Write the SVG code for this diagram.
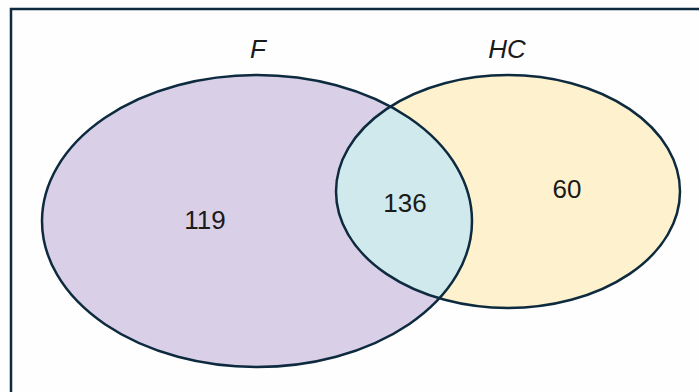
<svg xmlns="http://www.w3.org/2000/svg" width="699" height="392" viewBox="0 0 699 392">
<style>
.lbl{font-family:"Liberation Sans",Arial,sans-serif;font-size:26px;fill:#1a1a1a;text-anchor:middle}
.it{font-style:italic}
.edge{fill:none;stroke:#0d2a3f;stroke-width:2.5}
</style>
<defs>
<clipPath id="clipF"><ellipse cx="257" cy="221" rx="215" ry="146"/></clipPath>
</defs>
<rect x="0" y="0" width="699" height="392" fill="#fefefe"/>
<rect x="11" y="9" width="700" height="400" fill="none" stroke="#0d2a3f" stroke-width="2.5"/>
<g id="F">
<ellipse cx="257" cy="221" rx="215" ry="146" fill="#d9d0e8"/>
</g>
<g id="HC">
<ellipse cx="508" cy="191.5" rx="172" ry="116.5" fill="#fdf2cd"/>
</g>
<g id="FandHC">
<ellipse cx="508" cy="191.5" rx="172" ry="116.5" fill="#cfe9ec" clip-path="url(#clipF)"/>
</g>
<g id="outlines">
<ellipse class="edge" cx="257" cy="221" rx="215" ry="146"/>
<ellipse class="edge" cx="508" cy="191.5" rx="172" ry="116.5"/>
</g>
<g id="labels">
<text class="lbl it" x="258" y="58">F</text>
<text class="lbl it" x="507" y="58">HC</text>
<text class="lbl" x="205" y="229">119</text>
<text class="lbl" x="405" y="212">136</text>
<text class="lbl" x="567" y="198">60</text>
</g>
</svg>
